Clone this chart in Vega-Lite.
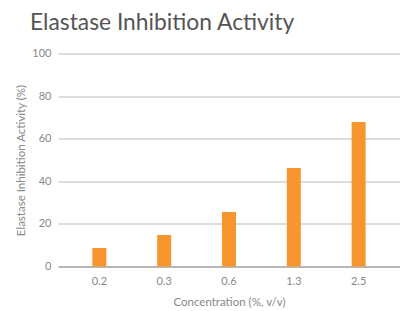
{
  "$schema": "https://vega.github.io/schema/vega-lite/v6.json",
  "autosize": "none",
  "width": 342,
  "height": 213,
  "padding": {"left": 58, "top": 53.5, "right": 0, "bottom": 44.5},
  "background": "white",
  "config": {
    "view": {"stroke": null},
    "font": "Lato"
  },
  "title": {
    "text": "Elastase Inhibition Activity",
    "anchor": "start",
    "frame": "group",
    "dx": -28,
    "fontSize": 22.8,
    "fontWeight": "normal",
    "color": "#555555",
    "font": "Lato",
    "offset": 13
  },
  "data": {
    "values": [
      {"conc": "0.2", "activity": 8.7},
      {"conc": "0.3", "activity": 14.8},
      {"conc": "0.6", "activity": 25.6},
      {"conc": "1.3", "activity": 46.2},
      {"conc": "2.5", "activity": 67.8}
    ]
  },
  "mark": {"type": "bar", "color": "#F7962F"},
  "encoding": {
    "x": {
      "field": "conc",
      "type": "nominal",
      "sort": null,
      "scale": {"paddingInner": 0.784, "paddingOuter": 0.53},
      "axis": {
        "title": "Concentration (%, v/v)",
        "labelAngle": 0,
        "ticks": false,
        "domain": true,
        "domainColor": "#aaaaaa",
        "domainWidth": 1.5,
        "labelColor": "#888888",
        "labelFontSize": 11,
        "labelPadding": 9,
        "titleColor": "#888888",
        "titleFontSize": 11.5,
        "titleFontWeight": "normal",
        "titlePadding": 10
      }
    },
    "y": {
      "field": "activity",
      "type": "quantitative",
      "scale": {"domain": [0, 100]},
      "axis": {
        "title": "Elastase Inhibition Activity (%)",
        "values": [0, 20, 40, 60, 80, 100],
        "ticks": false,
        "domain": false,
        "grid": true,
        "gridColor": "#bbbbbb",
        "gridWidth": 1,
        "labelColor": "#888888",
        "labelFontSize": 11,
        "labelPadding": 7,
        "titleColor": "#888888",
        "titleFontSize": 11.5,
        "titleFontWeight": "normal",
        "titlePadding": 5
      }
    }
  }
}
